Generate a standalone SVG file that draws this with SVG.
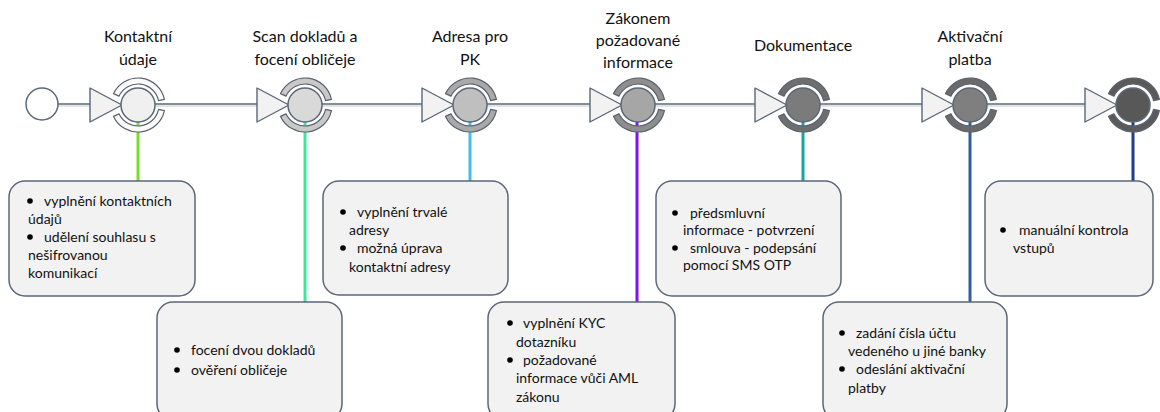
<svg xmlns="http://www.w3.org/2000/svg" width="1160" height="412" viewBox="0 0 1160 412">
  <defs>
    <style>
      .flow { stroke: #5b6878; stroke-width: 1.5; fill: none; }
      .flow-shadow { stroke: #e0e3e8; stroke-width: 2; fill: none; }
      .tri { fill: #f2f2f2; stroke: #5b6878; stroke-width: 1.4; stroke-linejoin: round; }
      .core { stroke: #5b6878; stroke-width: 1.5; }
      .ring { stroke: #5b6270; stroke-width: 1.2; stroke-linejoin: round; }
      .box { fill: #f2f2f2; stroke: #5b6878; stroke-width: 1.5; }
      .title { font-family: Lato, "Liberation Sans", sans-serif; font-size: 16px; fill: #111; text-anchor: middle; }
      .item { font-family: Lato, "Liberation Sans", sans-serif; font-size: 14px; fill: #111; }
      .stem { stroke-width: 3; fill: none; }
    </style>
    <!-- split halo around each step: upper and lower annular sectors -->
    <g id="halo">
      <path d="M -24.47 -11.41 A 27 27 0 0 1 26.41 -5.61 L 20.54 -4.37 A 21 21 0 0 0 -19.03 -8.87 Z"/>
      <path d="M -24.47 11.41 A 27 27 0 0 0 26.41 5.61 L 20.54 4.37 A 21 21 0 0 1 -19.03 8.87 Z"/>
    </g>
    <polygon id="arrowIn" points="-48,-17 -48,17 -16,0"/>
  </defs>

  <!-- flow line and stems -->
  <g id="connectors">
    <g class="flow-shadow">
      <line x1="58" y1="106" x2="90" y2="106"/>
      <line x1="155" y1="106" x2="257" y2="106"/>
      <line x1="322" y1="106" x2="422" y2="106"/>
      <line x1="487" y1="106" x2="590" y2="106"/>
      <line x1="655" y1="106" x2="755" y2="106"/>
      <line x1="820" y1="106" x2="922" y2="106"/>
      <line x1="987" y1="106" x2="1085" y2="106"/>
    </g>
    <g class="flow">
      <line x1="58" y1="104" x2="90" y2="104"/>
      <line x1="155" y1="104" x2="257" y2="104"/>
      <line x1="322" y1="104" x2="422" y2="104"/>
      <line x1="487" y1="104" x2="590" y2="104"/>
      <line x1="655" y1="104" x2="755" y2="104"/>
      <line x1="820" y1="104" x2="922" y2="104"/>
      <line x1="987" y1="104" x2="1085" y2="104"/>
    </g>
    <line class="stem" x1="138" y1="122" x2="138" y2="181" stroke="#74de2a"/>
    <line class="stem" x1="305" y1="122" x2="305" y2="302" stroke="#3ee69b"/>
    <line class="stem" x1="470" y1="122" x2="470" y2="181" stroke="#3fc0e4"/>
    <line class="stem" x1="637" y1="122" x2="637" y2="302" stroke="#8010ff"/>
    <line class="stem" x1="803" y1="122" x2="803" y2="181" stroke="#14a6a2"/>
    <line class="stem" x1="970" y1="122" x2="970" y2="302" stroke="#2f5f9c"/>
    <line class="stem" x1="1133" y1="122" x2="1133" y2="181" stroke="#1f3f80"/>
  </g>

  <!-- start event -->
  <g id="start">
    <circle cx="42" cy="104" r="16" fill="#ffffff" class="core"/>
  </g>

  <!-- step 1 -->
  <g id="step-kontakt">
    <text class="title" x="138" y="42">Kontaktní</text>
    <text class="title" x="138" y="65">údaje</text>
    <use href="#arrowIn" x="138" y="105" class="tri"/>
    <use href="#halo" x="138" y="105" class="ring" fill="#fafafa" stroke="#6e747e"/>
    <circle cx="138" cy="105" r="17" fill="#f0f0f0" class="core"/>
  </g>

  <!-- step 2 -->
  <g id="step-scan">
    <text class="title" x="305" y="42">Scan dokladů a</text>
    <text class="title" x="305" y="65">focení obličeje</text>
    <use href="#arrowIn" x="305" y="105" class="tri"/>
    <use href="#halo" x="305" y="105" class="ring" fill="#c9c9c9"/>
    <circle cx="305" cy="105" r="17" fill="#d9d9d9" class="core"/>
  </g>

  <!-- step 3 -->
  <g id="step-adresa">
    <text class="title" x="470" y="42">Adresa pro</text>
    <text class="title" x="470" y="65">PK</text>
    <use href="#arrowIn" x="470" y="105" class="tri"/>
    <use href="#halo" x="470" y="105" class="ring" fill="#a9a9a9"/>
    <circle cx="470" cy="105" r="17" fill="#bfbfbf" class="core"/>
  </g>

  <!-- step 4 -->
  <g id="step-zakon">
    <text class="title" x="638" y="24">Zákonem</text>
    <text class="title" x="638" y="46">požadované</text>
    <text class="title" x="638" y="68">informace</text>
    <use href="#arrowIn" x="638" y="105" class="tri"/>
    <use href="#halo" x="638" y="105" class="ring" fill="#8e8e8e"/>
    <circle cx="638" cy="105" r="17" fill="#a6a6a6" class="core"/>
  </g>

  <!-- step 5 -->
  <g id="step-dokumentace">
    <text class="title" x="803" y="51">Dokumentace</text>
    <use href="#arrowIn" x="803" y="105" class="tri"/>
    <use href="#halo" x="803" y="105" class="ring" fill="#6e6e6e"/>
    <circle cx="803" cy="105" r="17" fill="#7b7b7b" class="core"/>
  </g>

  <!-- step 6 -->
  <g id="step-platba">
    <text class="title" x="970" y="42">Aktivační</text>
    <text class="title" x="970" y="65">platba</text>
    <use href="#arrowIn" x="970" y="105" class="tri"/>
    <use href="#halo" x="970" y="105" class="ring" fill="#6a6a6a"/>
    <circle cx="970" cy="105" r="17" fill="#7f7f7f" class="core"/>
  </g>

  <!-- step 7 -->
  <g id="step-kontrola">
    <use href="#arrowIn" x="1133" y="105" class="tri"/>
    <use href="#halo" x="1133" y="105" class="ring" fill="#5a5a5a"/>
    <circle cx="1133" cy="105" r="17" fill="#585858" class="core"/>
  </g>

  <!-- detail boxes -->
  <g id="box-kontakt">
    <rect class="box" x="9" y="181" width="186" height="115" rx="16"/>
    <circle cx="30" cy="201" r="2.8" fill="#000"/>
    <circle cx="30" cy="237" r="2.8" fill="#000"/>
    <text class="item" x="44" y="206">vyplnění kontaktních</text>
    <text class="item" x="28" y="224">údajů</text>
    <text class="item" x="44" y="242">udělení souhlasu s</text>
    <text class="item" x="28" y="260">nešifrovanou</text>
    <text class="item" x="28" y="278">komunikací</text>
  </g>

  <g id="box-scan">
    <rect class="box" x="157" y="302" width="185" height="118" rx="16"/>
    <circle cx="177" cy="350" r="2.8" fill="#000"/>
    <circle cx="177" cy="370" r="2.8" fill="#000"/>
    <text class="item" x="191" y="355">focení dvou dokladů</text>
    <text class="item" x="191" y="375">ověření obličeje</text>
  </g>

  <g id="box-adresa">
    <rect class="box" x="323" y="181" width="185" height="114" rx="16"/>
    <circle cx="343" cy="212" r="2.8" fill="#000"/>
    <circle cx="343" cy="248" r="2.8" fill="#000"/>
    <text class="item" x="357" y="217">vyplnění trvalé</text>
    <text class="item" x="349" y="235">adresy</text>
    <text class="item" x="357" y="253">možná úprava</text>
    <text class="item" x="349" y="272">kontaktní adresy</text>
  </g>

  <g id="box-zakon">
    <rect class="box" x="488" y="302" width="187" height="118" rx="16"/>
    <circle cx="510" cy="323" r="2.8" fill="#000"/>
    <circle cx="510" cy="360" r="2.8" fill="#000"/>
    <text class="item" x="523" y="328">vyplnění KYC</text>
    <text class="item" x="516" y="347">dotazníku</text>
    <text class="item" x="523" y="365">požadované</text>
    <text class="item" x="516" y="383">informace vůči AML</text>
    <text class="item" x="516" y="402">zákonu</text>
  </g>

  <g id="box-dokumentace">
    <rect class="box" x="656" y="181" width="185" height="115" rx="16"/>
    <circle cx="675" cy="213" r="2.8" fill="#000"/>
    <circle cx="675" cy="248" r="2.8" fill="#000"/>
    <text class="item" x="690" y="218">předsmluvní</text>
    <text class="item" x="683" y="235">informace - potvrzení</text>
    <text class="item" x="690" y="253">smlouva - podepsání</text>
    <text class="item" x="683" y="270">pomocí SMS OTP</text>
  </g>

  <g id="box-platba">
    <rect class="box" x="823" y="302" width="184" height="118" rx="16"/>
    <circle cx="842" cy="333" r="2.8" fill="#000"/>
    <circle cx="842" cy="369" r="2.8" fill="#000"/>
    <text class="item" x="856" y="338">zadání čísla účtu</text>
    <text class="item" x="848" y="356">vedeného u jiné banky</text>
    <text class="item" x="856" y="374">odeslání aktivační</text>
    <text class="item" x="848" y="393">platby</text>
  </g>

  <g id="box-kontrola">
    <rect class="box" x="985" y="181" width="168" height="115" rx="16"/>
    <circle cx="1003" cy="230" r="2.8" fill="#000"/>
    <text class="item" x="1019" y="235">manuální kontrola</text>
    <text class="item" x="1013" y="253">vstupů</text>
  </g>
</svg>
